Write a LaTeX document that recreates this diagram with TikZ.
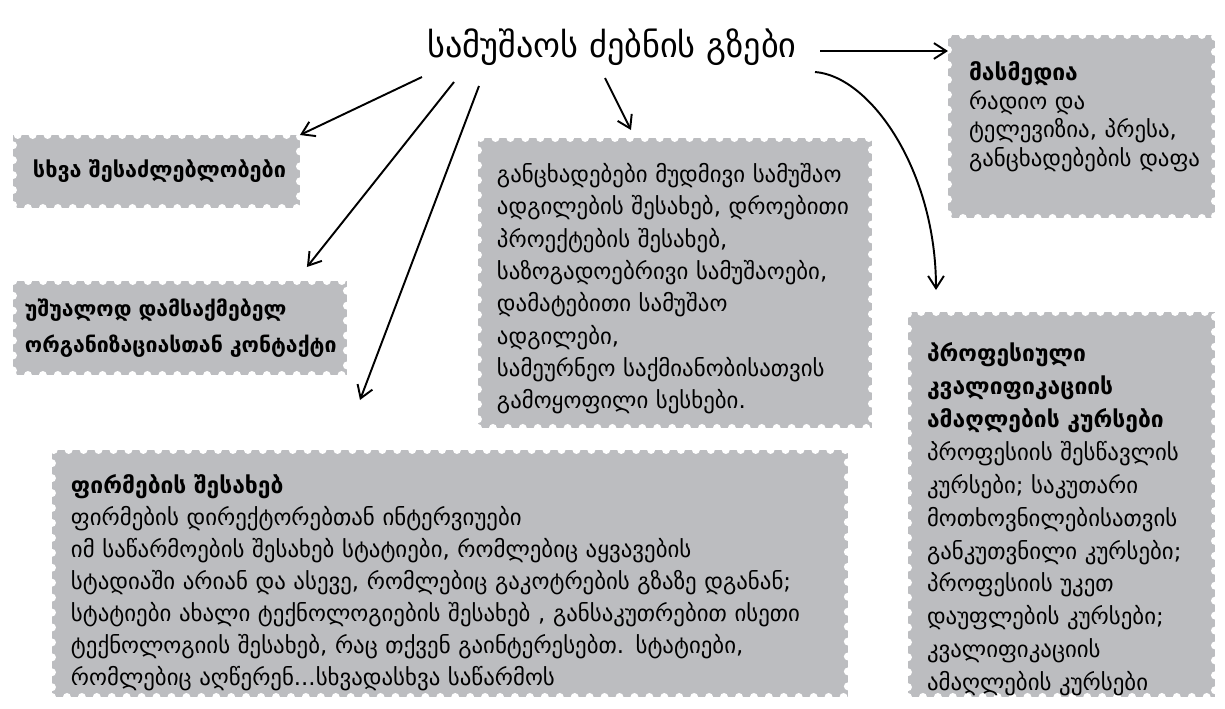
\documentclass[tikz,border=0pt]{standalone}
\usepackage{fontspec}
\setmainfont{DejaVu Sans}
\usetikzlibrary{arrows.meta}

\definecolor{stampgray}{RGB}{188,189,192}

\tikzset{
  stamp/.style={fill=stampgray, draw=white, line width=4.5pt,
    dash pattern=on 0pt off 8.5pt, line cap=round,
    outer sep=0pt, inner sep=0pt, anchor=north west, align=left,
    font=\fontsize{13}{18.2}\selectfont},
  link/.style={-{Straight Barb[length=7pt,width=9pt]}, line width=1.1pt},
}

\begin{document}
\begin{tikzpicture}[x=0.02cm, y=-0.02cm]
  \useasboundingbox (0,0) rectangle (1225,708);

  \node [inner sep=0pt, font=\fontsize{19.5}{22}\selectfont] (title) at (612,47) {სამუშაოს ძებნის გზები};

  \node [stamp, minimum width=5.74cm, minimum height=1.46cm, text width=4.94cm,
    font=\fontsize{12.3}{18}\selectfont] (other) at (13,135)
    {\bfseries სხვა~შესაძლებლობები};
  \node [stamp, minimum width=6.68cm, minimum height=1.88cm, text width=6.2cm,
    font=\fontsize{12.1}{20.5}\selectfont] (contact) at (13,281)
    {\bfseries უშუალოდ დამსაქმებელ\\ ორგანიზაციასთან~კონტაქტი};
  \node [stamp, minimum width=7.88cm, minimum height=5.8cm, text width=7.12cm,
    font=\fontsize{13}{18.4}\selectfont] (ads) at (478,138)
    {\rule{0pt}{0.62cm}განცხადებები~მუდმივი~სამუშაო\\ ადგილების შესახებ, დროებითი\\ პროექტების შესახებ,\\
     საზოგადოებრივი სამუშაოები,\\ დამატებითი სამუშაო\\ ადგილები,\\
     სამეურნეო საქმიანობისათვის\\ გამოყოფილი სესხები.};
  \node [stamp, minimum width=15.92cm, minimum height=4.94cm, text width=15.16cm] (firms) at (52,450)
    {\rule{0pt}{0.75cm}\textbf{ფირმების შესახებ}\\ ფირმების დირექტორებთან ინტერვიუები\\
     იმ საწარმოების შესახებ სტატიები, რომლებიც აყვავების\\
     სტადიაში არიან და ასევე, რომლებიც გაკოტრების გზაზე დგანან;\\
     სტატიები ახალი ტექნოლოგიების შესახებ , განსაკუთრებით ისეთი\\
     ტექნოლოგიის შესახებ, რაც თქვენ გაინტერესებთ. სტატიები,\\
     რომლებიც აღწერენ...სხვადასხვა საწარმოს};
  \node [stamp, minimum width=5.34cm, minimum height=3.66cm, text width=4.5cm,
    font=\fontsize{13}{16.2}\selectfont] (media) at (948,35)
    {\textbf{მასმედია}\\ რადიო და\\ ტელევიზია, პრესა,\\ განცხადებების~დაფა\rule[-0.5cm]{0pt}{0pt}};
  \node [stamp, minimum width=6.14cm, minimum height=7.7cm, text width=5.38cm,
    font=\fontsize{13}{18.7}\selectfont] (courses) at (908,312)
    {\rule{0pt}{0.98cm}\textbf{პროფესიული}\\ \textbf{კვალიფიკაციის}\\ \textbf{ამაღლების~კურსები}\\
     პროფესიის შესწავლის\\ კურსები; საკუთარი\\ მოთხოვნილებისათვის\\
     განკუთვნილი~კურსები;\\ პროფესიის უკეთ\\ დაუფლების~კურსები;\\
     კვალიფიკაციის\\ ამაღლების კურსები};

  \coordinate (firmstip) at (360,400);

  % arrows out of the title
  \draw [link] ([shift={(-190,30)}]title.center) -- (other.north east);
  \draw [link] ([shift={(-158,35)}]title.center) -- ([shift={(-40,-14)}]contact.north east);
  \draw [link] ([shift={(-133,39)}]title.center) -- (firmstip);
  \draw [link] ([shift={(-7,31)}]title.center) -- ([shift={(-44,-8)}]ads.north);
  \draw [link] ([shift={(208,4)}]title.center) -- ([shift={(0,16)}]media.north west);
  \draw [link] ([shift={(203,25)}]title.center) .. controls +(55,4) and +(0,-120) .. ([shift={(28,-22)}]courses.north west);
\end{tikzpicture}
\end{document}
